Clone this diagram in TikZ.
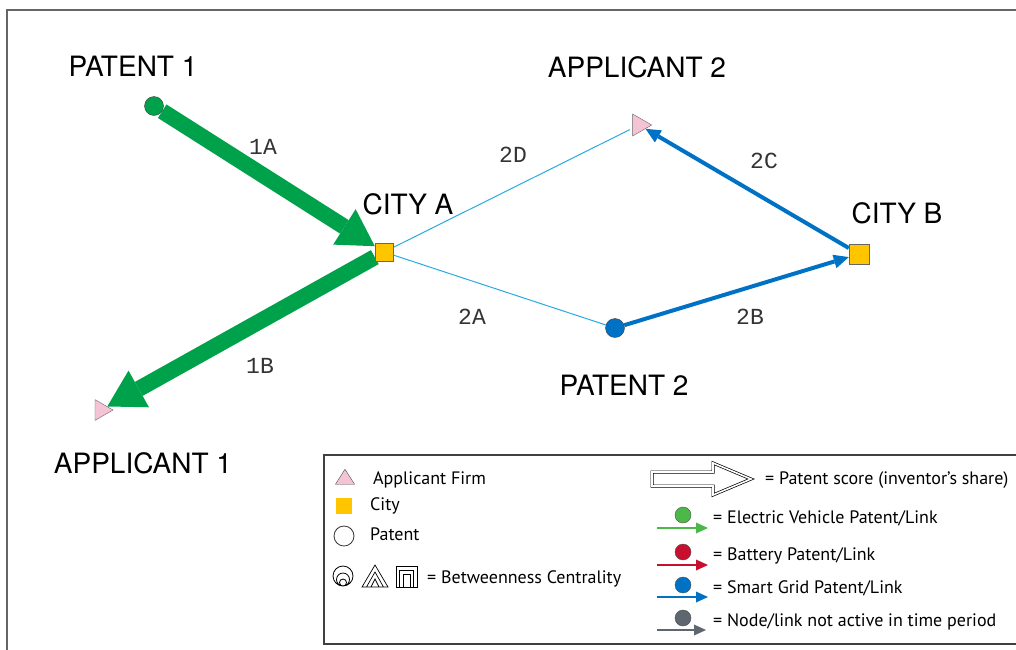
\documentclass[tikz,border=0pt]{standalone}
\usepackage{fontspec}
\setmainfont{TeX Gyre Heros}
\newfontfamily\legendfont{PT Sans}
\newfontfamily\edgefont{Liberation Mono}
\usepackage{tikz}
\usetikzlibrary{arrows.meta,shapes.geometric,backgrounds}

\definecolor{evgreen}{HTML}{00A14B}
\definecolor{lgreen}{HTML}{4CB848}
\definecolor{cityyellow}{HTML}{FFC600}
\definecolor{firmpink}{HTML}{F4C4D6}
\definecolor{gridblue}{HTML}{0072C6}
\definecolor{linkblue}{HTML}{2AA9E0}
\definecolor{battred}{HTML}{C8102E}
\definecolor{offgray}{HTML}{5E6670}

\tikzset{
  city/.style={shape=rectangle,draw=gray!80!black,fill=cityyellow,inner sep=0pt,minimum size=#1},
  firm/.style={shape=isosceles triangle,isosceles triangle apex angle=60,draw=gray!80!black,fill=firmpink,inner sep=0pt,minimum height=#1,minimum width=#1},
  patent/.style={shape=circle,draw=black!75,fill=#1,inner sep=0pt,minimum size=19pt},
  biglabel/.style={font=\fontsize{28}{30}\selectfont},
  edgelabel/.style={font=\edgefont\fontsize{23}{25}\selectfont,text=black!80},
  legtext/.style={font=\legendfont\fontsize{18}{20}\selectfont,anchor=west,text height=12.5pt,text depth=0pt,inner sep=0pt},
  legarrow/.style={line width=2.2pt,color=#1,-{Triangle[length=12pt,width=11pt,line width=0pt]}},
  legdot/.style={shape=circle,draw=black!70,fill=#1,inner sep=0pt,minimum size=16pt}
}

\begin{document}
\begin{tikzpicture}[x=1pt,y=-1pt]
	\useasboundingbox (0,0) rectangle (1016,649);
	\draw[line width=1.5pt,draw=black!60] (7,10) rectangle (1040,670);

	% network nodes
	\node[patent=evgreen] (p1) at (154, 106) {};
	\node[city=18pt] (ca) at (384, 252) {};
	\node[firm=18pt] (a1) at (101, 410) {};
	\node[firm=19pt] (a2) at (639, 125) {};
	\node[city=20pt] (cb) at (859, 254) {};
	\node[patent=gridblue] (p2) at (615, 328) {};

	\node[biglabel] (p1lbl) at (133, 66) {PATENT 1};
	\node[biglabel] (a2lbl) at (637, 67) {APPLICANT 2};
	\node[biglabel] (calbl) at (408, 204) {CITY A};
	\node[biglabel] (cblbl) at (897, 213) {CITY B};
	\node[biglabel] (p2lbl) at (624, 385) {PATENT 2};
	\node[biglabel] (a1lbl) at (143, 463) {APPLICANT 1};

	% links
	\begin{scope}[on background layer]
	\path[line width=16pt, color=evgreen, -{Triangle[length=36pt,width=42pt,line width=0pt]}] (p1) edge (ca);
	\path[line width=16pt, color=evgreen, -{Triangle[length=36pt,width=42pt,line width=0pt]}] (ca) edge (a1);
	\path[line width=1pt, color=linkblue, shorten >=3pt] (ca) edge (a2);
	\path[line width=1pt, color=linkblue] (ca) edge (p2);
	\path[line width=4pt, color=gridblue, -{Triangle[length=15pt,width=14pt,line width=0pt]}] (p2) edge (cb);
	\path[line width=4pt, color=gridblue, -{Triangle[length=15pt,width=14pt,line width=0pt]}] (cb) edge (a2);
	\end{scope}

	\node[edgelabel] (l1a) at (263, 147) {1A};
	\node[edgelabel] (l1b) at (260, 366) {1B};
	\node[edgelabel] (l2d) at (513, 155) {2D};
	\node[edgelabel] (l2a) at (472, 317) {2A};
	\node[edgelabel] (l2c) at (764, 161) {2C};
	\node[edgelabel] (l2b) at (750, 317) {2B};

	% legend
	\draw[line width=1.2pt,draw=black!75] (324,455) rectangle (1040,644);

	\node[shape=isosceles triangle,isosceles triangle apex angle=65,shape border rotate=90,draw=black!70,fill=firmpink,inner sep=0pt,minimum height=15pt,minimum width=19pt] (kfirm) at (345, 479) {};
	\node[legtext] (kfirmt) at (373, 478) {Applicant Firm};
	\node[shape=rectangle,fill=cityyellow,inner sep=0pt,minimum size=16pt] (kcity) at (344, 506) {};
	\node[legtext] (kcityt) at (370, 504) {City};
	\node[shape=circle,draw=black!80,line width=0.8pt,inner sep=0pt,minimum size=20pt] (kpat) at (344, 536) {};
	\node[legtext] (kpatt) at (370, 534) {Patent};

	\draw[line width=0.8pt] (343,576) circle (10) (343,579.5) circle (6.5) (343,582.5) circle (3.5);
	\draw[line width=0.7pt] (362,587) -- (375,565) -- (388,587) -- cycle
	      (366.5,587) -- (375,572) -- (383.5,587)
	      (371,587) -- (375,579) -- (379,587);
	\draw[line width=0.7pt] (396,566) rectangle (417,587)
	      (399.5,587) -- (399.5,570) -- (413.5,570) -- (413.5,587)
	      (403,587) -- (403,574) -- (410,574) -- (410,587);
	\node[legtext] (kbet) at (427, 577) {= Betweenness Centrality};

	\draw[line width=0.7pt, double, double distance=1.6pt] (652,472) -- (713,472) -- (713,463) -- (751,479) -- (713,495) -- (713,486) -- (652,486) -- cycle;
	\node[legtext] (kscore) at (765, 478) {= Patent score (inventor’s share)};

	\node[legdot=lgreen] (kev) at (683, 515) {};
	\coordinate (kev0) at (657, 528); \coordinate (kev1) at (708, 528);
	\draw[legarrow=lgreen] (kev0) -- (kev1);
	\node[legtext] (kevt) at (713, 517) {= Electric Vehicle Patent/Link};

	\node[legdot=battred] (kbat) at (683, 552) {};
	\coordinate (kbat0) at (657, 565); \coordinate (kbat1) at (708, 565);
	\draw[legarrow=battred] (kbat0) -- (kbat1);
	\node[legtext] (kbatt) at (713, 554) {= Battery Patent/Link};

	\node[legdot=gridblue] (ksg) at (683, 585) {};
	\coordinate (ksg0) at (657, 597); \coordinate (ksg1) at (708, 597);
	\draw[legarrow=gridblue] (ksg0) -- (ksg1);
	\node[legtext] (ksgt) at (713, 587) {= Smart Grid Patent/Link};

	\node[legdot=offgray] (koff) at (683, 618) {};
	\coordinate (koff0) at (657, 630); \coordinate (koff1) at (706, 630);
	\draw[legarrow=offgray] (koff0) -- (koff1);
	\node[legtext] (kofft) at (713, 620) {= Node/link not active in time period};

\end{tikzpicture}
\end{document}
